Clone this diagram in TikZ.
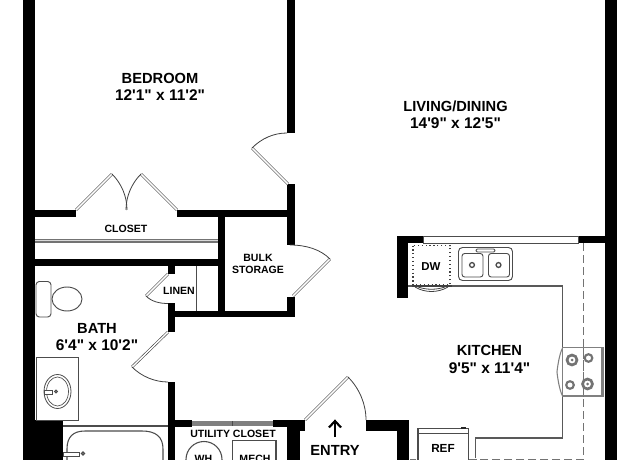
\documentclass[tikz,border=0pt]{standalone}
\usepackage{fontspec}
\newfontfamily\planfont{Liberation Sans}[BoldFont={Liberation Sans Bold}]
\tikzset{
  wall/.style={fill=black,draw=none},
  leaf/.style={double=white,draw=black!75,line width=0.45pt,double distance=1.1pt},
  swing/.style={draw=black!75,line width=0.6pt},
  fixture/.style={draw=black!70,line width=0.7pt},
  counter/.style={draw=black!65,line width=0.9pt},
  dashline/.style={draw=black!55,line width=0.8pt,dash pattern=on 6pt off 3pt},
  roomname/.style={font=\planfont\bfseries\fontsize{11}{12}\selectfont,inner sep=0pt,text=black},
  roomsize/.style={font=\planfont\bfseries\fontsize{11.6}{12}\selectfont,inner sep=0pt,text=black},
  smalltag/.style={font=\planfont\bfseries\fontsize{7.9}{9}\selectfont,inner sep=0pt,text=black},
}
\begin{document}
\begin{tikzpicture}[x=0.75pt,y=-0.75pt]
\useasboundingbox (0,0) rectangle (640,460);
\fill[white] (0,0) rectangle (640,460);
\clip (0,0) rectangle (640,460);
% walls
\fill[wall] (23,0) rectangle (35,420);
\fill[wall] (23,420) rectangle (63,460);
\fill[wall] (35,210) rectangle (76,217);
\fill[wall] (177,210) rectangle (295,217);
\fill[wall] (287,0) rectangle (294.5,133);
\fill[wall] (287,184) rectangle (294.5,245);
\fill[wall] (287,297) rectangle (295,317);
\fill[wall] (168,311) rectangle (295,317);
\fill[wall] (218,217) rectangle (225,311);
\fill[wall] (35,259) rectangle (218,266);
\fill[wall] (167.5,266) rectangle (175,274);
\fill[wall] (167.5,303) rectangle (175,332);
\fill[wall] (167.5,382) rectangle (175,460);
\fill[wall] (175,419.5) rectangle (192,426.5);
\fill[wall] (273,419.5) rectangle (305,426.5);
\fill[wall] (287,426) rectangle (299.5,460);
\fill[wall] (299,426) rectangle (305,431);
\fill[wall] (366,419.5) rectangle (409,431);
\fill[wall] (397,431) rectangle (409,460);
\fill[wall] (605,0) rectangle (617,460);
\fill[wall] (397,236) rectangle (423,243);
\fill[wall] (578,236) rectangle (605,243);
\fill[wall] (397,243) rectangle (408,298);
% windows and rod
\draw[fixture,fill=white] (423,236.5) rectangle (578,243);
\fill[black!50] (192,421) rectangle (273,426);
\draw[black!70,line width=0.4pt] (232.5,421) -- (232.5,426);
\fill[black!55] (35,238.8) rectangle (218,243);
\fill[black!15] (35,240.3) rectangle (218,241.3);
% door leaves and swings
\draw[leaf] (76,210) -- (112,174);
\draw[swing] (112,174) .. controls (121.5,183.5) and (127,196.5) .. (127,210);
\draw[leaf] (177,210) -- (141,174);
\draw[swing] (141,174) .. controls (131.5,183.5) and (126,196.5) .. (126,210);
\draw[leaf] (288,184) -- (252,148);
\draw[swing] (252,148) .. controls (261.5,138.5) and (273.5,133) .. (287,133);
\draw[leaf] (293,296) -- (330,259);
\draw[swing] (330,259) .. controls (320.5,249.5) and (306.5,245) .. (290,245);
\draw[leaf] (168,274) -- (146,296);
\draw[swing] (146,296) .. controls (151.8,301.8) and (160,303.5) .. (168,303.5);
\draw[leaf] (168,332) -- (132,367);
\draw[swing] (132,367) .. controls (141.4,376.4) and (154.7,382) .. (168,382);
\draw[leaf] (305,420) -- (348,377);
\draw[swing] (348,377) .. controls (359.4,388.4) and (366,404) .. (366,420);
% linen shelf
\draw[fixture,line width=0.6pt] (196.5,266) -- (196.5,311);
% toilet
\draw[fixture,rounded corners=2.5pt] (36,281.5) rectangle (51,317);
\draw[fixture] (67,299) ellipse [x radius=15,y radius=12];
% vanity
\draw[fixture,line width=0.7pt] (36,357) rectangle (78,420);
\draw[fixture,line width=0.6pt] (57.5,391.5) ellipse [x radius=13.5,y radius=17];
\draw[fixture,line width=0.5pt] (57.5,391.5) ellipse [x radius=11,y radius=14.5];
\draw[fixture,fill=white,line width=0.6pt] (44,390) rectangle (52.5,394);
\draw[fixture,line width=0.8pt] (56,391.5) circle [radius=1.3];
% tub
\draw[fixture,line width=0.8pt] (63,426) -- (168,426);
\draw[fixture,line width=0.8pt] (67,470) -- (67,449) .. controls (67,437) and (73,431) .. (85,431) -- (142,431) .. controls (156,431) and (163,437) .. (163,449) -- (163,470);
\draw[fixture,fill=white] (63,452) rectangle (79,456);
\draw[fixture,line width=0.9pt] (83,453.5) circle [radius=1.5];
% utility closet
\draw[fixture,line width=0.8pt] (204,459.5) circle [radius=18];
\draw[fixture,line width=0.8pt] (232.5,440.5) rectangle (276,470);
% kitchen
\draw[counter] (408,286) -- (562.5,286) -- (562.5,347);
\draw[counter] (562.5,396) -- (562.5,438) -- (475.5,438) -- (475.5,458);
\draw[dashline] (583.5,243) -- (583.5,459.5) -- (410,459.5);
% dishwasher
\draw[black!75,line width=0.9pt,dotted] (413,245.5) rectangle (450,285);
\draw[black!75,line width=1.2pt] (412,286) -- (452,286);
\draw[swing] (415,287) .. controls (425,293) and (438,293) .. (448,287);
\draw[swing] (418,287) .. controls (427,290) and (436,290) .. (445,287);
% sink
\draw[fixture,rounded corners=3pt] (458.5,247.5) rectangle (512.5,280.5);
\draw[fixture,rounded corners=2pt] (462,253.5) rectangle (483,277);
\draw[fixture,rounded corners=2pt] (488.5,253.5) rectangle (509.5,277);
\draw[fixture,fill=white,rounded corners=1pt] (476,249) rectangle (495,252);
\draw[fixture,line width=1pt] (472,265) circle [radius=2.4];
\draw[fixture,line width=1pt] (498.5,265) circle [radius=2.4];
% stove
\draw[fixture,draw=black!50,line width=0.8pt] (562.5,347.5) rectangle (603,396);
\draw[fixture,draw=black!50,line width=0.6pt] (601,347.5) -- (601,396);
\draw[fixture,draw=black!50,line width=0.8pt] (562.5,348) .. controls (558.5,356) and (557,372) .. (557,372) .. controls (557,372) and (558.5,388) .. (562.5,396);
\draw[black!55,line width=2pt] (572,360) circle [radius=5];
\draw[black!55,line width=1.6pt] (588.5,358) circle [radius=3.8];
\draw[black!55,line width=1.6pt] (570,385) circle [radius=3.8];
\draw[black!55,line width=2pt] (587.5,384) circle [radius=5];
\fill[black!55] (572,360) circle [radius=1.5] (587.5,384) circle [radius=1.5];
\draw[dashline] (583.5,347.5) -- (583.5,396);
% refrigerator
\draw[fixture,line width=0.9pt,fill=white] (418,470) -- (418,428.5) -- (468.5,428.5) -- (468.5,470);
\draw[fixture,line width=0.8pt] (418,433.5) -- (468.5,433.5);
\fill[black!85] (461,426.5) rectangle (466,429);
\draw[dashline] (468.5,459.5) -- (480,459.5);
% entry arrow
\coordinate (arrowfoot) at (335,437);
\coordinate (arrowtip) at (335,421);
\draw[black,line width=1.6pt] (arrowfoot) -- (arrowtip);
\draw[black,line width=1.6pt] (329,427.5) -- (arrowtip) -- (341,427.5);
% labels
\node[roomname] (bedroom) at (160,78) {BEDROOM};
\node[roomsize] (bedroomsize) at (160,95) {12'1" x 11'2"};
\node[roomname] (living) at (455.5,106) {LIVING/DINING};
\node[roomsize] (livingsize) at (455.5,123) {14'9" x 12'5"};
\node[roomname] (kitchen) at (489.5,350) {KITCHEN};
\node[roomsize] (kitchensize) at (489.5,368) {9'5" x 11'4"};
\node[roomname] (bath) at (97,328.5) {BATH};
\node[roomsize] (bathsize) at (97,345.5) {6'4" x 10'2"};
\node[smalltag] (closet) at (126,228.5) {CLOSET};
\node[smalltag] (bulk) at (258,258) {BULK};
\node[smalltag] (storage) at (258,270) {STORAGE};
\node[smalltag] (linen) at (179,290.5) {LINEN};
\node[smalltag] (utility) at (233,434) {UTILITY CLOSET};
\node[smalltag] (wh) at (203.5,459) {WH};
\node[smalltag] (mech) at (255,459) {MECH};
\node[roomname] (entry) at (335,450) {ENTRY};
\node[smalltag,font=\planfont\bfseries\fontsize{8.6}{10}\selectfont] (dw) at (431,267) {DW};
\node[smalltag,font=\planfont\bfseries\fontsize{8.8}{10}\selectfont] (ref) at (443,448.5) {REF};
\end{tikzpicture}
\end{document}
